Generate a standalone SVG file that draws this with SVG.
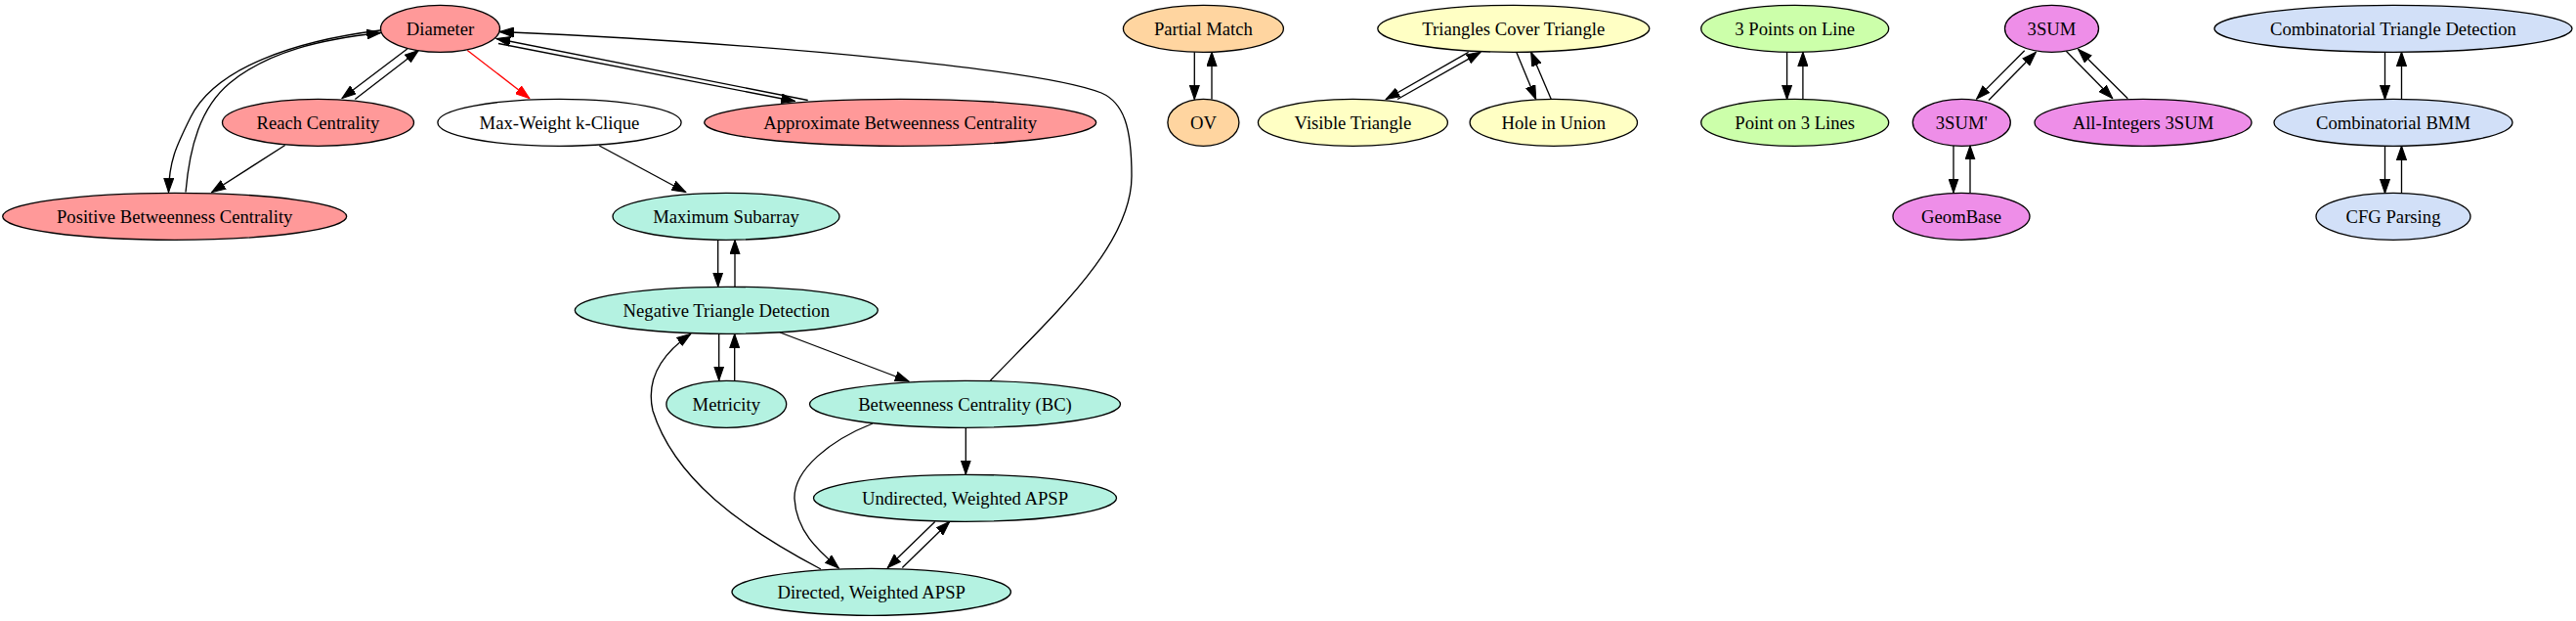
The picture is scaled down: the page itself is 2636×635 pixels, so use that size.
<svg xmlns="http://www.w3.org/2000/svg" width="2636" height="635" viewBox="0 0 2636 635">
<style>
.n ellipse{stroke:#000;stroke-width:1.33}
.n text{font-family:"Liberation Serif","Times New Roman",serif;font-size:18.67px;text-anchor:middle;fill:#000}
.r ellipse{fill:#ff9999}
.t ellipse{fill:#b4f2e1}
.w ellipse{fill:#ffffff}
.o ellipse{fill:#ffd5a0}
.y ellipse{fill:#ffffc4}
.g ellipse{fill:#ccffaa}
.m ellipse{fill:#ee8ee8}
.b ellipse{fill:#d2e0f8}
#edges path{fill:none;stroke:#000;stroke-width:1.33;marker-end:url(#ah)}
#edges path.red{stroke:#ff0000;marker-end:url(#ahr)}
</style>
<defs>
<marker id="ah" markerUnits="userSpaceOnUse" markerWidth="15" markerHeight="11" viewBox="0 0 14 10" refX="13.3" refY="5" orient="auto">
<path d="M0,0.4 L13.3,5 L0,9.6 z" fill="#000" stroke="#000" stroke-width="1"/>
</marker>
<marker id="ahr" markerUnits="userSpaceOnUse" markerWidth="15" markerHeight="11" viewBox="0 0 14 10" refX="13.3" refY="5" orient="auto">
<path d="M0,0.4 L13.3,5 L0,9.6 z" fill="#ff0000" stroke="#ff0000" stroke-width="1"/>
</marker>
</defs>
<rect width="2636" height="635" fill="#fff"/>
<g id="edges">
<path d="M389,31 C300,42 220,70 195,120 C180,150 173,165 172.5,196.5"/>
<path d="M190,196.5 C194,150 205,110 235,85 C275,52 330,40 389.5,33.5"/>
<path d="M416.7,50 L350,100.5"/>
<path d="M363.3,101.5 L428.3,51.5"/>
<path d="M291.7,148.5 L216.7,196.5"/>
<path class="red" d="M478.3,51.5 L541.7,100.5"/>
<path d="M510,44.5 L813.5,103.5"/>
<path d="M826.7,102.5 L508,39.5"/>
<path d="M613.3,149 L701.7,196.5"/>
<path d="M1013.5,389 C1080,320 1158,250 1158,180 C1158,130 1150,105 1127,95 C1070,72 800,45 511.5,32.5"/>
<path d="M734.7,245.5 L734.7,293"/>
<path d="M752,293 L752,245.5"/>
<path d="M735.7,341.5 L735.7,389"/>
<path d="M751.7,389 L751.7,341.5"/>
<path d="M798.3,340 L930,390"/>
<path d="M988.3,437.5 L988.3,485"/>
<path d="M956.7,533.5 L908.3,580.5"/>
<path d="M923.3,580.5 L971.7,533.5"/>
<path d="M893,433 C850,450 812,480 813,510 C815,545 840,565 858.3,581"/>
<path d="M840,582 C760,540 690,490 668,420 C660,385 680,360 706.7,341.5"/>
<path d="M1222.3,53.3 L1222.3,101.5"/>
<path d="M1240,101.5 L1240,53.3"/>
<path d="M1502.7,53.3 L1418.3,101.5"/>
<path d="M1430,101.5 L1515,53.3"/>
<path d="M1551.7,53.3 L1571.7,101.5"/>
<path d="M1587.3,101.5 L1566.7,53.3"/>
<path d="M1828.6,53.3 L1828.6,101.5"/>
<path d="M1844.9,101.5 L1844.9,53.3"/>
<path d="M2071.7,51.7 L2022.7,101"/>
<path d="M2035,102.5 L2083.3,53.3"/>
<path d="M2114.3,52.3 L2161.7,100.5"/>
<path d="M2177.3,100.7 L2126.7,50.5"/>
<path d="M1999,149 L1999,197"/>
<path d="M2016,197 L2016,149"/>
<path d="M2440.5,53.3 L2440.5,101.5"/>
<path d="M2457.5,101.5 L2457.5,53.3"/>
<path d="M2440.5,149.3 L2440.5,197.5"/>
<path d="M2457.5,197.5 L2457.5,149.3"/>
</g>
<g id="diameter" class="n r"><ellipse cx="450.5" cy="29.3" rx="61" ry="24"/><text x="450.5" y="35.5">Diameter</text></g>
<g id="reach" class="n r"><ellipse cx="325.5" cy="125.3" rx="98" ry="24"/><text x="325.5" y="131.5">Reach Centrality</text></g>
<g id="mwkc" class="n w"><ellipse cx="572.5" cy="125.3" rx="124.6" ry="24"/><text x="572.5" y="131.5">Max-Weight k-Clique</text></g>
<g id="abc" class="n r"><ellipse cx="921.2" cy="125.3" rx="200.5" ry="24"/><text x="921.2" y="131.5">Approximate Betweenness Centrality</text></g>
<g id="pbc" class="n r"><ellipse cx="178.7" cy="221.3" rx="176" ry="24"/><text x="178.7" y="227.5">Positive Betweenness Centrality</text></g>
<g id="maxsub" class="n t"><ellipse cx="743" cy="221.3" rx="116" ry="24"/><text x="743" y="227.5">Maximum Subarray</text></g>
<g id="ntd" class="n t"><ellipse cx="743.3" cy="317.3" rx="155" ry="24"/><text x="743.3" y="323.5">Negative Triangle Detection</text></g>
<g id="metricity" class="n t"><ellipse cx="743.3" cy="413.3" rx="61.4" ry="24"/><text x="743.3" y="419.5">Metricity</text></g>
<g id="bc" class="n t"><ellipse cx="987.5" cy="413.3" rx="159" ry="24"/><text x="987.5" y="419.5">Betweenness Centrality (BC)</text></g>
<g id="uwapsp" class="n t"><ellipse cx="987.5" cy="509.3" rx="155" ry="24"/><text x="987.5" y="515.5">Undirected, Weighted APSP</text></g>
<g id="dwapsp" class="n t"><ellipse cx="891.7" cy="605.3" rx="142.7" ry="24"/><text x="891.7" y="611.5">Directed, Weighted APSP</text></g>
<g id="pm" class="n o"><ellipse cx="1231.4" cy="29.3" rx="82" ry="24"/><text x="1231.4" y="35.5">Partial Match</text></g>
<g id="ov" class="n o"><ellipse cx="1231.4" cy="125.3" rx="36.5" ry="24"/><text x="1231.4" y="131.5">OV</text></g>
<g id="tct" class="n y"><ellipse cx="1548.8" cy="29.3" rx="139" ry="24"/><text x="1548.8" y="35.5">Triangles Cover Triangle</text></g>
<g id="vt" class="n y"><ellipse cx="1384.4" cy="125.3" rx="97" ry="24"/><text x="1384.4" y="131.5">Visible Triangle</text></g>
<g id="hiu" class="n y"><ellipse cx="1589.8" cy="125.3" rx="85.7" ry="24"/><text x="1589.8" y="131.5">Hole in Union</text></g>
<g id="tpol" class="n g"><ellipse cx="1836.7" cy="29.3" rx="96" ry="24"/><text x="1836.7" y="35.5">3 Points on Line</text></g>
<g id="po3l" class="n g"><ellipse cx="1836.7" cy="125.3" rx="96" ry="24"/><text x="1836.7" y="131.5">Point on 3 Lines</text></g>
<g id="sum3" class="n m"><ellipse cx="2099.5" cy="29.3" rx="48" ry="24"/><text x="2099.5" y="35.5">3SUM</text></g>
<g id="sum3p" class="n m"><ellipse cx="2007.3" cy="125.3" rx="50" ry="24"/><text x="2007.3" y="131.5">3SUM'</text></g>
<g id="ai3sum" class="n m"><ellipse cx="2193" cy="125.3" rx="111" ry="24"/><text x="2193" y="131.5">All-Integers 3SUM</text></g>
<g id="geombase" class="n m"><ellipse cx="2007" cy="221.3" rx="70" ry="24"/><text x="2007" y="227.5">GeomBase</text></g>
<g id="ctd" class="n b"><ellipse cx="2449" cy="29.3" rx="183" ry="24"/><text x="2449" y="35.5">Combinatorial Triangle Detection</text></g>
<g id="cbmm" class="n b"><ellipse cx="2449" cy="125.3" rx="122" ry="24"/><text x="2449" y="131.5">Combinatorial BMM</text></g>
<g id="cfg" class="n b"><ellipse cx="2449" cy="221.3" rx="79" ry="24"/><text x="2449" y="227.5">CFG Parsing</text></g>
</svg>
